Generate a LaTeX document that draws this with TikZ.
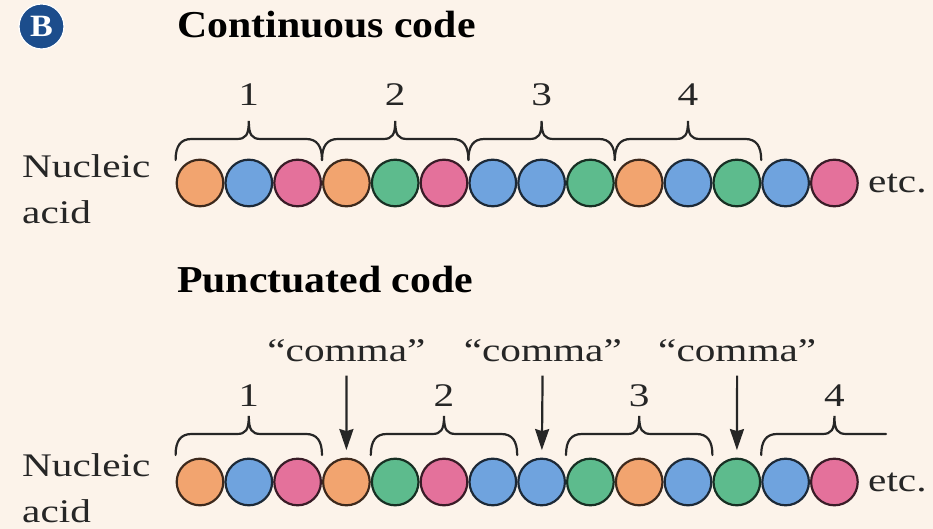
\documentclass[tikz,border=0pt]{standalone}
\usepackage{fontspec}
\setmainfont{Liberation Serif}[FakeStretch=1.25]
\newfontfamily\titlefont{Liberation Serif}[FakeStretch=1.1]
\usepackage{tikz}
\usetikzlibrary{arrows.meta}

\definecolor{paper}{HTML}{FCF3EA}
\definecolor{badge}{HTML}{1C4D8C}
\definecolor{orng}{HTML}{F2A46F}
\definecolor{blu}{HTML}{6FA3DE}
\definecolor{pnk}{HTML}{E4719B}
\definecolor{grn}{HTML}{5DBB8D}
\definecolor{ink}{HTML}{262626}

\tikzset{
  bead/.style={circle,inner sep=0pt,minimum size=46.6pt,line width=2.2pt},
  brace/.style={draw=ink,line width=2.2pt,line cap=round},
  txt/.style={inner sep=0pt,text=ink,font=\fontsize{33}{46}\selectfont},
  head/.style={inner sep=0pt,text=black,font=\fontsize{38}{46}\titlefont\bfseries},
  comma arrow/.style={draw=ink,line width=2.2pt,-{Stealth[length=21pt,width=14pt,inset=2pt]},
    shorten <=13pt,shorten >=7.5pt}
}

% curly brace over three beads: left x, right x, base y
\newcommand{\tripbrace}[3]{%
  \pgfmathsetmacro{\bm}{(#1+#2)/2}
  \draw[brace] (#1,#3) .. controls (#1,#3+14) and (#1+5,#3+21) .. (#1+16,#3+21)
    -- (\bm-12,#3+21) .. controls (\bm-3,#3+21) and (\bm,#3+25) .. (\bm,#3+39)
    .. controls (\bm,#3+25) and (\bm+3,#3+21) .. (\bm+12,#3+21)
    -- (#2-16,#3+21) .. controls (#2-5,#3+21) and (#2,#3+14) .. (#2,#3);
}

\begin{document}
\begin{tikzpicture}[x=1pt,y=1pt]
  \useasboundingbox (0,0) rectangle (933,529);
  \fill[paper] (0,0) rectangle (933,529);

  % panel letter
  \node[circle,fill=badge,draw=white,line width=1.2pt,minimum size=45pt,inner sep=0pt,
        text=white,font=\fontsize{31}{34}\titlefont\bfseries] (badge) at (41.5,502.5) {B};

  % headings
  \node[head,anchor=base west] (conthead) at (177,491) {Continuous code};
  \node[head,anchor=base west] (punchead) at (177,236) {Punctuated code};

  % the two strands
  \foreach \c [count=\i] in {orng,blu,pnk,orng,grn,pnk,blu,blu,grn,orng,blu,grn,blu,pnk} {
    \node[bead,fill=\c,draw=\c!25!black] (t\i) at ({200+48.8*(\i-1)},346) {};
    \node[bead,fill=\c,draw=\c!25!black] (b\i) at ({200+48.8*(\i-1)},47) {};
  }

  \node[txt,anchor=west,align=left] (tacid) at (22,340) {Nucleic\\acid};
  \node[txt,anchor=west,align=left] (bacid) at (22,41) {Nucleic\\acid};
  \node[txt,anchor=base west] (tetc) at (868,336) {etc.};
  \node[txt,anchor=base west] (betc) at (868,37) {etc.};

  % continuous code: back-to-back triplets
  \foreach \k in {1,2,3,4} {
    \pgfmathsetmacro{\xa}{175.6+146.4*(\k-1)}
    \tripbrace{\xa}{\xa+146.4}{369}
    \node[txt,anchor=base] (tn\k) at (\xa+73.2,423) {\k};
  }

  % punctuated code: triplets with a comma bead between them
  \foreach \k in {1,2,3} {
    \pgfmathsetmacro{\xa}{175.6+195.2*(\k-1)}
    \tripbrace{\xa}{\xa+146.4}{74}
    \node[txt,anchor=base] (bn\k) at (\xa+73.2,122) {\k};
  }
  \draw[brace] (761.2,74) .. controls (761.2,88) and (766.2,95) .. (777.2,95)
    -- (822.4,95) .. controls (831.4,95) and (834.4,99) .. (834.4,113)
    .. controls (834.4,99) and (837.4,95) .. (846.4,95) -- (886,95);
  \node[txt,anchor=base] (bn4) at (834.4,122) {4};

  \node[txt,anchor=base] (m1) at (346.4,167) {“comma”};
  \node[txt,anchor=base] (m2) at (542.8,167) {“comma”};
  \node[txt,anchor=base] (m3) at (737.2,167) {“comma”};
  \draw[comma arrow] (m1) -- (b4);
  \draw[comma arrow] (m2) -- (b8);
  \draw[comma arrow] (m3) -- (b12);
\end{tikzpicture}
\end{document}
